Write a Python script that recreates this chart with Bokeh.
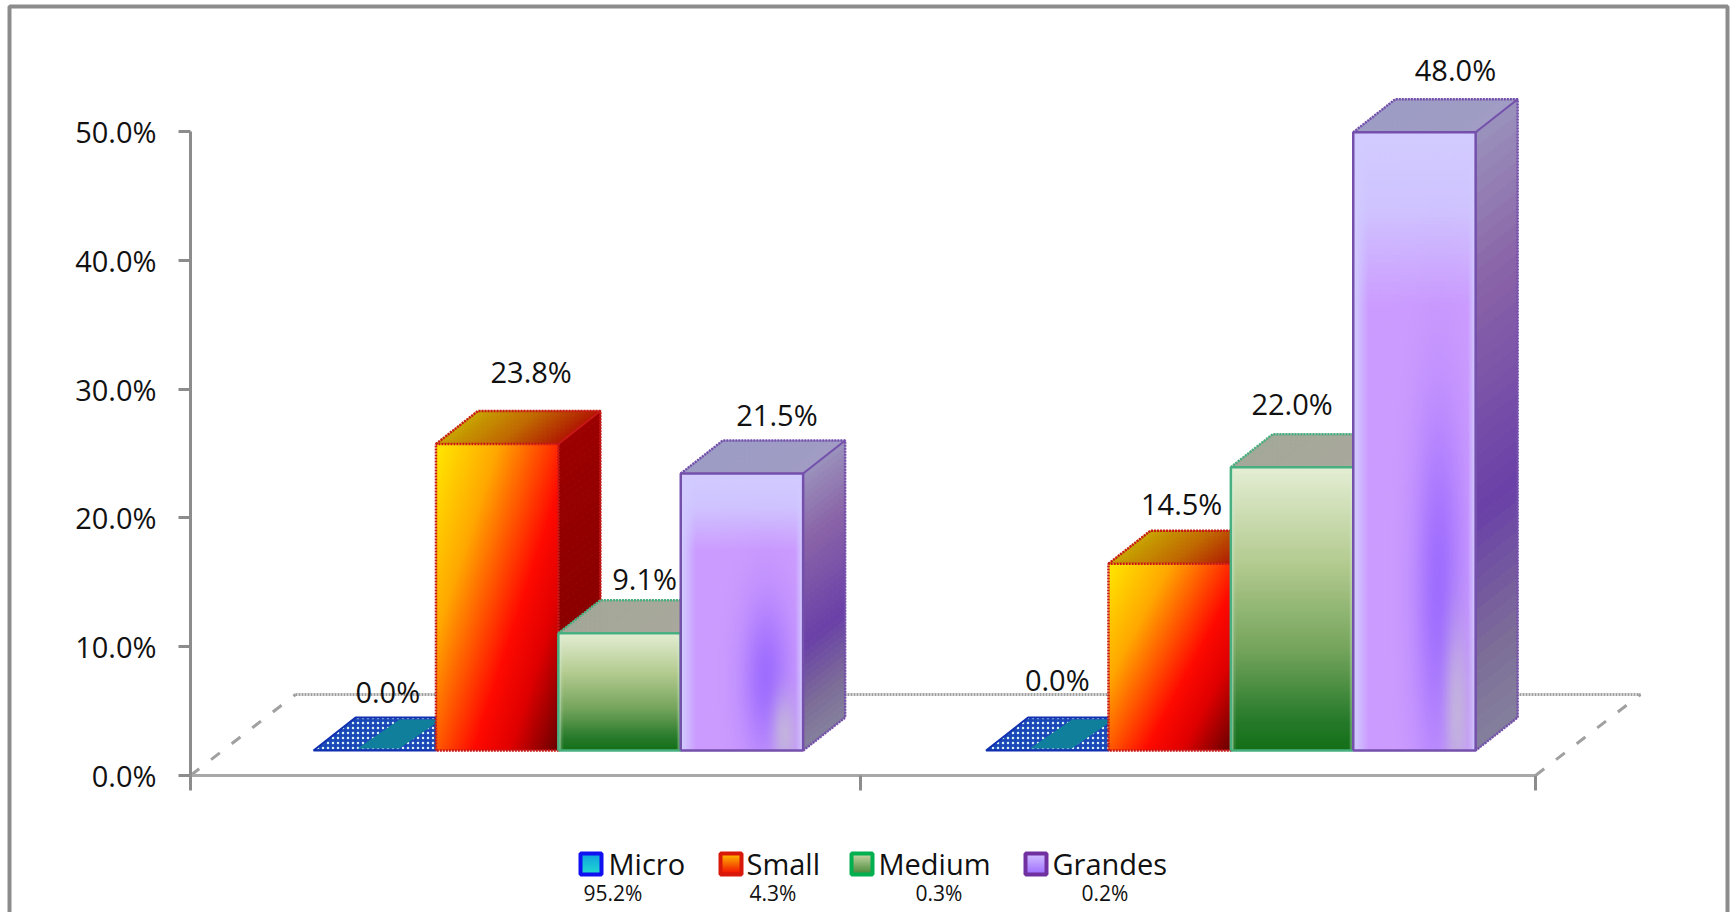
import numpy as np
from bokeh.core.properties import value
from bokeh.embed import file_html
from bokeh.models import FixedTicker, LinearAxis, Range1d
from bokeh.plotting import figure
from bokeh.resources import INLINE

# Share of firms per size class, two unnamed groups
micro = [0.0, 0.0]
small = [23.8, 14.5]
medium = [9.1, 22.0]
grandes = [21.5, 48.0]
series_names = ["Micro", "Small", "Medium", "Grandes"]
series_shares = ["95.2%", "4.3%", "0.3%", "0.2%"]
y_ticks = [0, 10, 20, 30, 40, 50]
y_tick_labels = ["0.0%", "10.0%", "20.0%", "30.0%", "40.0%", "50.0%"]
x_ticks = [0, 0.996, 2]

W, H = 1730, 912
LEFT, BOTTOM = 190, 775          # pixel position of the axes corner
PX_X, PX_Y = 672.5, 12.88        # pixels per category / per percentage point
BAR_W = 0.182
GAP = 0.183
DX, DY = 42 / PX_X, 33 / PX_Y    # depth of a bar
BASE = 25 / PX_Y                 # bars stand this far behind the axis plane
FLOOR_DX, FLOOR_DY = 105 / PX_X, 81 / PX_Y
GREY = "#8c8c8c"
FONT = value("Open Sans")


def px(dx):
    return dx / PX_X


def py(dy):
    return dy / PX_Y


def hex_rgb(c):
    return np.array([int(c[i:i + 2], 16) for i in (1, 3, 5)], dtype=float)


def ramp(t, stops):
    pos = [s[0] for s in stops]
    cols = np.array([hex_rgb(s[1]) for s in stops])
    return np.stack([np.interp(t, pos, cols[:, k]) for k in range(3)], axis=-1)


def to_hex(rgb):
    return "#%02x%02x%02x" % tuple(int(round(c)) for c in rgb)


def small_face(u, v):
    t = 0.55 * u + 0.45 * v
    return ramp(t, [(0, "#ffe800"), (0.28, "#ffa800"), (0.62, "#ff0a00"), (0.78, "#e00000"), (1, "#6a0000")])


def medium_face(u, v):
    rgb = ramp(v, [(0, "#e4eed4"), (0.35, "#b2ca8e"), (0.65, "#74a45c"), (0.9, "#267a2a"), (1, "#147018")])
    edge = np.clip(1 - np.minimum(u, 1 - u) / 0.03, 0, 1)[..., None] * 0.6
    return rgb * (1 - edge) + hex_rgb("#d8f0d8") * edge


def grandes_face(u, v):
    rgb = ramp(v, [(0, "#d2ccff"), (0.12, "#d0c4ff"), (0.28, "#cc9cff"), (1, "#cc9cff")])
    side = np.clip(1 - np.minimum(u, (1 - u) * 2.0) / 0.12, 0, 1)[..., None]
    blob = (0.9 * np.exp(-((u - 0.7) / 0.2) ** 2 - ((v - 0.74) / 0.28) ** 2))[..., None]
    rgb = rgb * (1 - blob) + hex_rgb("#9a68ff") * blob
    rgb = rgb * (1 - side) + hex_rgb("#d2ccff") * side
    spot = (0.9 * np.exp(-((u - 0.85) / 0.1) ** 2 - ((v - 0.94) / 0.14) ** 2))[..., None]
    return rgb * (1 - spot) + hex_rgb("#c4b6dc") * spot


def small_side(t, s):
    return ramp(np.array(t), [(0, "#9c0000"), (1, "#800000")])


def medium_side(t, s):
    return ramp(np.array(t), [(0, "#6a8a5a"), (1, "#3a6a3a")])


def grandes_side(t, s):
    return ramp(np.array(t), [(0, "#9a92bc"), (0.25, "#8a64a8"), (0.62, "#6a40a8"), (0.85, "#7c6c98"), (1, "#84809c")])


def small_top(t):
    return ramp(np.array(t), [(0, "#c8a400"), (0.5, "#c06a00"), (1, "#b01800")])


def medium_top(t):
    return ramp(np.array(t), [(0, "#a4a898"), (1, "#a8a89c")])


def grandes_top(t):
    return ramp(np.array(t), [(0, "#9c9cc4"), (1, "#a09cc4")])


p = figure(
    width=W, height=H, output_backend="svg", toolbar_location=None,
    x_range=Range1d(-LEFT / PX_X, (W - LEFT) / PX_X),
    y_range=Range1d(-(H - BOTTOM) / PX_Y, BOTTOM / PX_Y),
    x_axis_location=None, y_axis_location=None,
    min_border_left=0, min_border_right=0, min_border_top=0, min_border_bottom=0,
    outline_line_color=None, background_fill_color="white", border_fill_color="white",
)
p.grid.visible = False

# Page frame, open at the foot
fx0, fx1 = px(9 - LEFT), px(1727 - LEFT)
fy0, fy1 = py(BOTTOM - H - 10), py(BOTTOM - 6)
p.line(x=[fx0, fx0, fx1, fx1], y=[fy0, fy1, fy1, fy0], line_color=GREY, line_width=4)

yaxis = LinearAxis(
    fixed_location=0, ticker=FixedTicker(ticks=y_ticks), bounds=(0, 50),
    major_label_overrides=dict(zip(y_ticks, y_tick_labels)),
    axis_line_color=GREY, axis_line_width=3,
    major_tick_line_color=GREY, major_tick_line_width=3,
    major_tick_out=12, major_tick_in=0, minor_tick_line_color=None,
    major_label_standoff=22, major_label_text_font="Open Sans",
    major_label_text_font_size="29px", major_label_text_color="#111111",
)
p.add_layout(yaxis, "left")

xaxis = LinearAxis(
    fixed_location=0, ticker=FixedTicker(ticks=x_ticks), bounds=(x_ticks[0], x_ticks[-1]),
    axis_line_color="#a8a8a8", axis_line_width=3,
    major_tick_line_color=GREY, major_tick_line_width=3,
    major_tick_out=15, major_tick_in=0, minor_tick_line_color=None,
    major_label_text_color=None, major_label_text_font_size="1px",
)
p.add_layout(xaxis, "below")

# Chart floor
p.line(x=[FLOOR_DX, 2 + FLOOR_DX], y=[FLOOR_DY] * 2, line_color="#a0a0a0", line_width=3, line_dash="2 1")
for x0 in (0, 2):
    p.line(x=[x0, x0 + FLOOR_DX], y=[0, FLOOR_DY], line_color="#a0a0a0", line_width=3, line_dash="11 15")


def flat_bar(x0):
    """A zero-height bar only shows its patterned top."""
    xs = [x0, x0 + BAR_W, x0 + BAR_W + DX, x0 + DX]
    ys = [BASE, BASE, BASE + DY, BASE + DY]
    p.patch(x=xs, y=ys, fill_color="#1a48b8", line_color="#1030b0", line_width=2,
            hatch_pattern="dot", hatch_color="#d8f4f4", hatch_scale=5, hatch_weight=2)
    a, b = x0 + BAR_W * 0.36, x0 + BAR_W * 0.7
    p.patch(x=[a, b, b + DX, a + DX], y=[BASE + py(2), BASE + py(2), BASE + DY - py(2), BASE + DY - py(2)],
            fill_color="#107f9c", line_color=None)


def solid_bar(x0, v, face, side, top, edge, dash):
    xr = x0 + BAR_W
    # top face, sliced across its width
    n = 24
    for k in range(n):
        a, b = x0 + BAR_W * k / n, x0 + BAR_W * (k + 1) / n
        c = to_hex(top((k + 0.5) / n))
        p.patch(x=[a, b, b + DX, a + DX], y=[BASE + v, BASE + v, BASE + v + DY, BASE + v + DY],
                fill_color=c, line_color=c, line_width=1)
    # side face, sliced along its height
    n = 40
    for k in range(n):
        y1, y2 = BASE + v * (1 - (k + 1) / n), BASE + v * (1 - k / n)
        c = to_hex(side((k + 0.5) / n, 0))
        p.patch(x=[xr, xr + DX, xr + DX, xr], y=[y1, y1 + DY, y2 + DY, y2],
                fill_color=c, line_color=c, line_width=1)
    # front face
    us, vs = np.meshgrid(np.linspace(0, 1, 80), np.linspace(1, 0, 160))
    rgb = face(us, vs).astype(np.uint8)
    rgba = np.dstack([rgb, np.full(rgb.shape[:2], 255, dtype=np.uint8)])
    img = rgba.view(dtype=np.uint32).reshape(rgb.shape[:2])
    p.image_rgba(image=[img], x=x0, y=BASE, dw=BAR_W, dh=v)
    # edges
    p.line(x=[x0, x0, xr, xr, x0], y=[BASE, BASE + v, BASE + v, BASE, BASE], line_color=edge, line_width=2.5, line_dash=dash)
    p.line(x=[x0, x0 + DX, xr + DX, xr + DX, xr], y=[BASE + v, BASE + v + DY, BASE + v + DY, BASE + DY, BASE],
           line_color=edge, line_width=2.5, line_dash="2 1")
    p.line(x=[xr, xr + DX], y=[BASE + v, BASE + v + DY], line_color=edge, line_width=2)


styles = [
    (small, small_face, small_side, small_top, "#c81818", "2 1"),
    (medium, medium_face, medium_side, medium_top, "#48b080", "solid"),
    (grandes, grandes_face, grandes_side, grandes_top, "#7450ac", "solid"),
]
for g in range(2):
    flat_bar(g + GAP)
    for j, (vals, face, side, top, edge, dash) in enumerate(styles):
        solid_bar(g + GAP + (j + 1) * BAR_W, vals[g], face, side, top, edge, dash)

# Value labels, offset per bar from the top of its front face
label_series = [micro, small, medium, grandes]
label_dx = [[13, 34, 25, 35], [10, 12, 0, 41]]
label_dy = [[59, 72, 55, 59], [71, 60, 64, 63]]
lx, ly, lt = [], [], []
for g in range(2):
    for j, vals in enumerate(label_series):
        lx.append(g + GAP + (j + 0.5) * BAR_W + px(label_dx[g][j]))
        ly.append(BASE + vals[g] + py(label_dy[g][j]))
        lt.append(f"{vals[g]:.1f}%")
p.text(x=lx, y=ly, text=lt, text_font=FONT, text_font_size="29px", text_color="#111111",
       text_align="center", text_baseline="middle")

# Legend below the axis
swatch_left = [580, 720, 851, 1025]
name_left = [608, 746, 878, 1052]
share_left = [583, 749, 915, 1081]
swatch_edge = ["#1010f0", "#d81808", "#00b050", "#7030a0"]
swatch_from = ["#10a0e0", "#ffc000", "#c8d8a8", "#d0c0ff"]
swatch_to = ["#20d8d0", "#f01000", "#4a8a3a", "#a070ff"]
for left, edge, c0, c1 in zip(swatch_left, swatch_edge, swatch_from, swatch_to):
    x0, x1 = px(left - LEFT), px(left - LEFT + 21)
    top_y, bot_y = py(BOTTOM - 853), py(BOTTOM - 874)
    n = 16
    rgb = [to_hex(c) for c in ramp(np.linspace(0, 1, n), [(0, c0), (1, c1)])]
    ys = np.linspace(top_y, bot_y, n + 1)
    p.quad(left=[x0] * n, right=[x1] * n, top=ys[:-1], bottom=ys[1:], fill_color=rgb, line_color=rgb)
    p.quad(left=[x0], right=[x1], top=[top_y], bottom=[bot_y], fill_color=None, line_color=edge, line_width=4)
p.text(x=[px(v - LEFT) for v in name_left], y=[py(BOTTOM - 863)] * 4, text=series_names,
       text_font=FONT, text_font_size="29px", text_color="#111111", text_align="left", text_baseline="middle")
p.text(x=[px(v - LEFT) for v in share_left], y=[py(BOTTOM - 892)] * 4, text=series_shares,
       text_font=FONT, text_font_size="21px", text_color="#111111", text_align="left", text_baseline="middle")

open("out.html", "w").write(file_html(p, INLINE))
